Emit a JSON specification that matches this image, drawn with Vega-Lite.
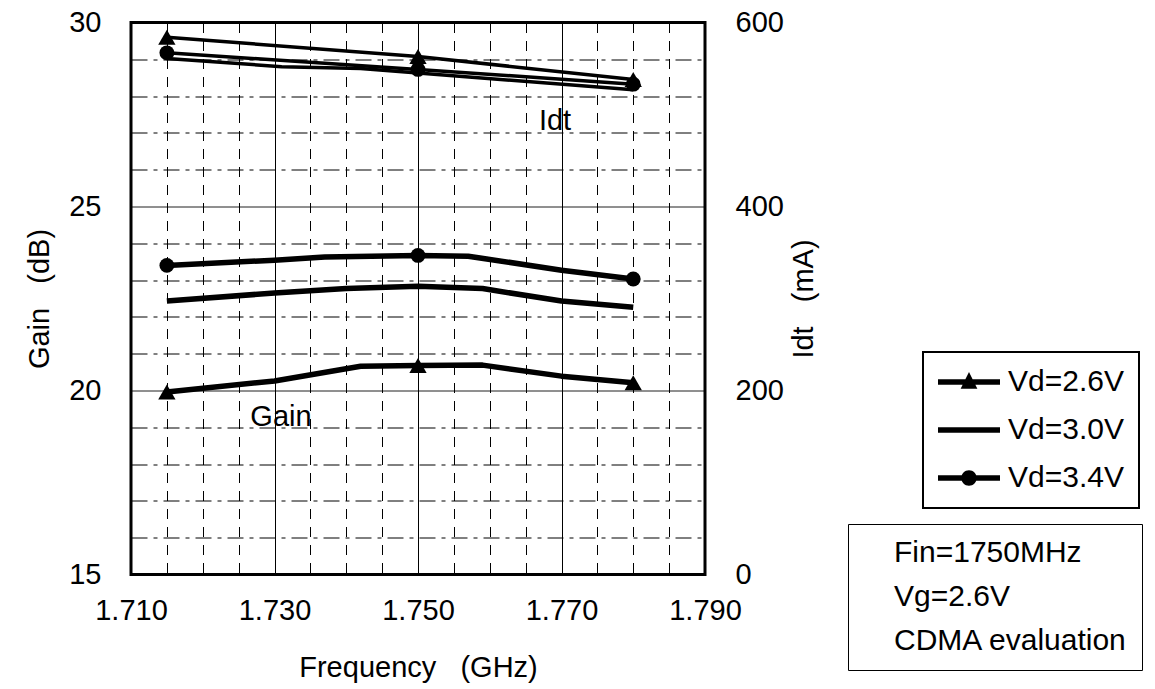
{
  "$schema": "https://vega.github.io/schema/vega-lite/v6.json",
  "width": 574,
  "height": 552,
  "autosize": {"type": "none"},
  "padding": {"left": 131, "top": 22.5, "right": 450, "bottom": 114.5},
  "background": "white",
  "config": {
    "view": {"stroke": "black", "strokeWidth": 3},
    "font": "Liberation Sans",
    "axis": {
      "labelFont": "Liberation Sans",
      "titleFont": "Liberation Sans",
      "labelColor": "black",
      "titleColor": "black",
      "labelFontSize": 29,
      "titleFontSize": 29,
      "titleFontWeight": "normal",
      "domain": false,
      "ticks": false
    }
  },
  "datasets": {
    "gain": [
      {"f": 1.715, "vd": "Vd=2.6V", "gain": 19.96},
      {"f": 1.730, "vd": "Vd=2.6V", "gain": 20.26},
      {"f": 1.742, "vd": "Vd=2.6V", "gain": 20.66},
      {"f": 1.750, "vd": "Vd=2.6V", "gain": 20.68},
      {"f": 1.759, "vd": "Vd=2.6V", "gain": 20.69},
      {"f": 1.770, "vd": "Vd=2.6V", "gain": 20.39},
      {"f": 1.780, "vd": "Vd=2.6V", "gain": 20.21},
      {"f": 1.715, "vd": "Vd=3.0V", "gain": 22.43},
      {"f": 1.730, "vd": "Vd=3.0V", "gain": 22.65},
      {"f": 1.740, "vd": "Vd=3.0V", "gain": 22.77},
      {"f": 1.750, "vd": "Vd=3.0V", "gain": 22.83},
      {"f": 1.759, "vd": "Vd=3.0V", "gain": 22.77},
      {"f": 1.770, "vd": "Vd=3.0V", "gain": 22.43},
      {"f": 1.780, "vd": "Vd=3.0V", "gain": 22.26},
      {"f": 1.715, "vd": "Vd=3.4V", "gain": 23.40},
      {"f": 1.730, "vd": "Vd=3.4V", "gain": 23.54},
      {"f": 1.737, "vd": "Vd=3.4V", "gain": 23.63},
      {"f": 1.750, "vd": "Vd=3.4V", "gain": 23.67},
      {"f": 1.757, "vd": "Vd=3.4V", "gain": 23.65},
      {"f": 1.770, "vd": "Vd=3.4V", "gain": 23.27},
      {"f": 1.780, "vd": "Vd=3.4V", "gain": 23.03}
    ],
    "idt": [
      {"f": 1.715, "vd": "Vd=2.6V", "idt": 584},
      {"f": 1.750, "vd": "Vd=2.6V", "idt": 563},
      {"f": 1.780, "vd": "Vd=2.6V", "idt": 538},
      {"f": 1.715, "vd": "Vd=3.0V", "idt": 561},
      {"f": 1.731, "vd": "Vd=3.0V", "idt": 552},
      {"f": 1.742, "vd": "Vd=3.0V", "idt": 550},
      {"f": 1.750, "vd": "Vd=3.0V", "idt": 545},
      {"f": 1.780, "vd": "Vd=3.0V", "idt": 527},
      {"f": 1.715, "vd": "Vd=3.4V", "idt": 567},
      {"f": 1.750, "vd": "Vd=3.4V", "idt": 549},
      {"f": 1.780, "vd": "Vd=3.4V", "idt": 533}
    ],
    "labels": [
      {"f": 1.7691, "gain": 27.31, "text": "Idt"},
      {"f": 1.7309, "gain": 19.28, "text": "Gain"}
    ],
    "notes": [
      {"note": "\u00a0\u00a0\u00a0Fin=1750MHz"},
      {"note": "Vg=2.6V"},
      {"note": "CDMA evaluation"}
    ]
  },
  "layer": [
    {
      "layer": [
        {
          "data": {"name": "gain"},
          "mark": {"type": "line", "strokeWidth": 5.5, "strokeJoin": "round", "strokeCap": "butt"},
          "encoding": {
            "x": {
              "field": "f", "type": "quantitative",
              "scale": {"domain": [1.71, 1.79], "nice": false, "zero": false},
              "axis": {
                "values": [1.71, 1.715, 1.72, 1.725, 1.73, 1.735, 1.74, 1.745, 1.75, 1.755, 1.76, 1.765, 1.77, 1.775, 1.78, 1.785, 1.79],
                "tickCount": 100,
                "format": ".3f",
                "labelExpr": "abs(datum.value*50 - floor(datum.value*50) - 0.5) < 0.05 ? datum.label : ''",
                "labelOverlap": false,
                "labelFlush": false,
                "labelPadding": 22,
                "grid": true,
                "gridColor": "black",
                "gridWidth": 1,
                "gridDash": {"condition": {"test": "abs(datum.value*50 - floor(datum.value*50) - 0.5) < 0.05", "value": [1, 0]}, "value": [10, 8]},
                "title": "Frequency\u00a0\u00a0\u00a0(GHz)",
                "titlePadding": 28
              }
            },
            "y": {
              "field": "gain", "type": "quantitative",
              "scale": {"domain": [15, 30], "nice": false, "zero": false},
              "axis": {
                "values": [15, 16, 17, 18, 19, 20, 21, 22, 23, 24, 25, 26, 27, 28, 29, 30],
                "tickCount": 100,
                "format": "d",
                "labelExpr": "datum.value % 5 === 0 ? datum.label : ''",
                "labelOverlap": false,
                "labelFlush": false,
                "labelPadding": 30,
                "grid": true,
                "gridColor": "black",
                "gridWidth": 1,
                "gridDash": {"condition": {"test": "datum.value % 5 === 0", "value": [1, 0]}, "value": [16, 6, 4, 6]},
                "title": "Gain\u00a0\u00a0\u00a0(dB)",
                "titlePadding": 14
              }
            },
            "color": {
              "field": "vd", "type": "nominal",
              "scale": {"domain": ["Vd=2.6V", "Vd=3.0V", "Vd=3.4V"], "range": ["black", "black", "black"]},
              "legend": {
                "orient": "none",
                "legendX": 792,
                "legendY": 329.5,
                "title": null,
                "padding": 15,
                "strokeColor": "black",
                "symbolSize": 3844,
                "clipHeight": 30,
                "rowPadding": 18,
                "labelOffset": 8,
                "labelFontSize": 30,
                "labelFont": "Liberation Sans",
                "labelColor": "black",
                "labelLimit": 400,
                "encode": {
                  "legend": {"update": {"strokeWidth": {"value": 2}}},
                  "symbols": {
                    "update": {
                      "shape": {"signal": "datum.value === 'Vd=2.6V' ? 'M-1,-0.09H1V0.09H-1Z M0,-0.32L0.27,0.22L-0.27,0.22Z' : (datum.value === 'Vd=3.4V' ? 'M-1,-0.09H1V0.09H-1Z M0.25,0A0.25,0.25 0 1,1 -0.25,0A0.25,0.25 0 1,1 0.25,0Z' : 'M-1,-0.09H1V0.09H-1Z')"},
                      "fill": {"value": "black"},
                      "stroke": {"value": "transparent"},
                      "strokeWidth": {"value": 0},
                      "size": {"value": 3844},
                      "opacity": {"value": 1}
                    }
                  }
                }
              }
            }
          }
        },
        {
          "data": {"name": "gain"},
          "transform": [
            {"filter": "datum.vd === 'Vd=2.6V'"},
            {"filter": {"field": "f", "oneOf": [1.715, 1.75, 1.78]}}
          ],
          "mark": {"type": "point", "shape": "triangle-up", "filled": true, "color": "black", "opacity": 1, "size": 300},
          "encoding": {
            "x": {"field": "f", "type": "quantitative"},
            "y": {"field": "gain", "type": "quantitative"}
          }
        },
        {
          "data": {"name": "gain"},
          "transform": [
            {"filter": "datum.vd === 'Vd=3.4V'"},
            {"filter": {"field": "f", "oneOf": [1.715, 1.75, 1.78]}}
          ],
          "mark": {"type": "point", "shape": "circle", "filled": true, "color": "black", "opacity": 1, "size": 220},
          "encoding": {
            "x": {"field": "f", "type": "quantitative"},
            "y": {"field": "gain", "type": "quantitative"}
          }
        },
        {
          "data": {"name": "labels"},
          "mark": {"type": "text", "font": "Liberation Sans", "fontSize": 29, "color": "black", "align": "center", "baseline": "middle"},
          "encoding": {
            "x": {"field": "f", "type": "quantitative"},
            "y": {"field": "gain", "type": "quantitative"},
            "text": {"field": "text"}
          }
        },
        {
          "data": {"name": "notes"},
          "mark": {"type": "point", "opacity": 0, "filled": true},
          "encoding": {
            "shape": {
              "field": "note", "type": "nominal",
              "scale": {"domain": ["\u00a0\u00a0\u00a0Fin=1750MHz", "Vg=2.6V", "CDMA evaluation"], "range": ["circle", "circle", "circle"]},
              "legend": {
                "orient": "none",
                "legendX": 717,
                "legendY": 501.5,
                "title": null,
                "padding": 14,
                "strokeColor": "black",
                "symbolSize": 0,
                "symbolOpacity": 0,
                "labelOffset": 2,
                "rowPadding": 14,
                "labelFontSize": 30,
                "labelFont": "Liberation Sans",
                "labelColor": "black",
                "labelLimit": 400,
                "encode": {"legend": {"update": {"strokeWidth": {"value": 2}}}}
              }
            }
          }
        }
      ]
    },
    {
      "layer": [
        {
          "data": {"name": "idt"},
          "mark": {"type": "line", "strokeWidth": 3.5, "color": "black", "strokeJoin": "round"},
          "encoding": {
            "x": {"field": "f", "type": "quantitative"},
            "y": {
              "field": "idt", "type": "quantitative",
              "scale": {"domain": [0, 600], "nice": false, "zero": false},
              "axis": {
                "orient": "right",
                "values": [0, 200, 400, 600],
                "tickCount": 100,
                "format": "d",
                "grid": false,
                "labelPadding": 30,
                "labelFlush": false,
                "labelOverlap": false,
                "title": "Idt\u00a0\u00a0\u00a0(mA)",
                "titleAngle": 270,
                "titleBaseline": "top",
                "titlePadding": 6
              }
            },
            "detail": {"field": "vd", "type": "nominal"}
          }
        },
        {
          "data": {"name": "idt"},
          "transform": [{"filter": "datum.vd === 'Vd=2.6V'"}],
          "mark": {"type": "point", "shape": "triangle-up", "filled": true, "color": "black", "opacity": 1, "size": 300},
          "encoding": {
            "x": {"field": "f", "type": "quantitative"},
            "y": {"field": "idt", "type": "quantitative"}
          }
        },
        {
          "data": {"name": "idt"},
          "transform": [{"filter": "datum.vd === 'Vd=3.4V'"}],
          "mark": {"type": "point", "shape": "circle", "filled": true, "color": "black", "opacity": 1, "size": 220},
          "encoding": {
            "x": {"field": "f", "type": "quantitative"},
            "y": {"field": "idt", "type": "quantitative"}
          }
        }
      ]
    }
  ],
  "resolve": {"scale": {"y": "independent"}}
}
